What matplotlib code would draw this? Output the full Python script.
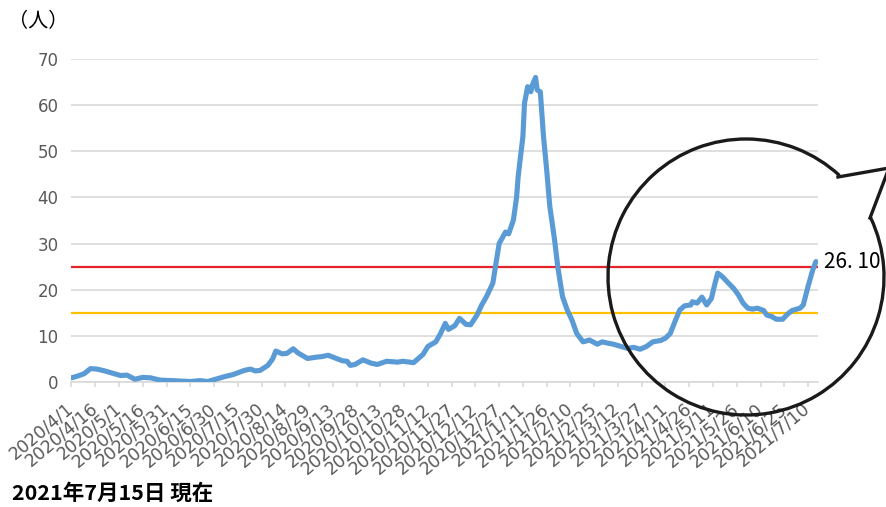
import numpy as np
import pandas as pd
import matplotlib
matplotlib.use("Agg")
import matplotlib.pyplot as plt
from matplotlib.patches import Arc

plt.rcParams['font.family'] = ['Noto Sans CJK JP', 'DejaVu Sans']

# days after 2020/4/1 and the value read at that day
start = pd.Timestamp('2020-04-01')
days = [0, 4, 8, 12, 16, 21, 25, 31, 35, 40, 45, 50, 56, 64, 75, 81, 86, 91, 97, 102,
        109, 113, 116, 119, 124, 127, 129, 133, 136, 140, 143, 149, 155, 158, 162, 165,
        171, 174, 176, 179, 184, 189, 193, 199, 206, 209, 216, 218, 222, 225, 230, 233,
        236, 238, 242, 245, 249, 252, 256, 259, 262, 266, 268, 270, 274, 276, 279, 281,
        282, 285, 286, 288, 290, 291, 293, 294, 296, 298, 300, 302, 305, 307, 310, 313,
        316, 319, 323, 327, 332, 335, 339, 342, 346, 351, 355, 359, 363, 367, 372, 375,
        378, 381, 384, 387, 391, 392, 395, 398, 401, 404, 406, 408, 411, 414, 418, 421,
        424, 427, 430, 433, 437, 439, 442, 445, 449, 452, 455, 460, 462, 465, 468, 470]
values = [0.9, 1.3, 1.8, 2.9, 2.8, 2.4, 2.0, 1.4, 1.5, 0.6, 1.0, 0.9, 0.4, 0.3, 0.1, 0.3,
          0.1, 0.6, 1.2, 1.6, 2.5, 2.8, 2.4, 2.5, 3.6, 5.0, 6.7, 6.1, 6.2, 7.2, 6.3, 5.1,
          5.4, 5.5, 5.8, 5.4, 4.6, 4.5, 3.6, 3.8, 4.8, 4.1, 3.8, 4.5, 4.3, 4.5, 4.2, 4.8,
          6.0, 7.7, 8.7, 10.5, 12.7, 11.4, 12.2, 13.8, 12.5, 12.4, 14.5, 16.7, 18.5, 21.4,
          25.7, 30.0, 32.5, 32.1, 35.1, 40.0, 44.5, 53.2, 60.4, 64.0, 62.9, 64.4, 66.0,
          63.3, 62.9, 53.2, 46.0, 38.0, 30.8, 25.0, 18.5, 15.6, 13.4, 10.5, 8.7, 9.1, 8.2,
          8.7, 8.4, 8.2, 7.8, 7.3, 7.5, 7.1, 7.7, 8.7, 9.0, 9.5, 10.5, 13.1, 15.6, 16.5,
          16.7, 17.4, 17.1, 18.4, 16.7, 18.1, 21.0, 23.6, 22.8, 21.7, 20.3, 18.9, 17.1,
          16.0, 15.8, 16.0, 15.5, 14.5, 14.2, 13.6, 13.6, 14.7, 15.5, 16.0, 16.7, 20.7,
          24.3, 26.1]
red_level = 25
yellow_level = 15
last_label = '26. 10'

dates = start + pd.to_timedelta(days, unit='D')
tick_dates = pd.date_range('2020-04-01', '2021-07-10', freq='15D')
tick_labels = [f'{d.year}/{d.month}/{d.day}' for d in tick_dates]

fig = plt.figure(figsize=(8.86, 5.07), dpi=100)
ax = fig.add_axes([71 / 886, 1 - 382 / 507, 747 / 886, 323 / 507])

ax.plot(dates, values, color='#5B9BD5', lw=3.7, solid_joinstyle='round',
        solid_capstyle='round', zorder=4)
ax.axhline(red_level, color='#E3242B', lw=1.6, zorder=3)
ax.axhline(yellow_level, color='#FFC000', lw=1.6, zorder=3)

ax.set_ylim(0, 70)
ax.set_xlim(start - pd.Timedelta(days=0.3), start + pd.Timedelta(days=471.3))
ax.set_yticks(np.arange(0, 71, 10))
ax.yaxis.grid(True, color='#D9D9D9', lw=1.2)
ax.set_axisbelow(True)
ax.set_xticks(tick_dates)
ax.set_xticklabels(tick_labels, rotation=40, ha='right', va='center', rotation_mode='anchor',
                   family='DejaVu Sans', fontsize=12.5)
ax.tick_params(axis='x', colors='#D9D9D9', length=3.6, width=1.2, labelcolor='#595959', pad=14)
ax.tick_params(axis='y', length=0, labelcolor='#595959', labelsize=12, pad=9)
for lab in ax.get_yticklabels():
    lab.set_family('DejaVu Sans')
for side in ['top', 'right', 'left']:
    ax.spines[side].set_visible(False)
ax.spines['bottom'].set_color('#D9D9D9')
ax.spines['bottom'].set_linewidth(1.2)

ax.annotate(last_label, (dates[-1], values[-1]), xytext=(6, 0), textcoords='offset points',
            va='center', ha='left', fontsize=15, color='black', annotation_clip=False)

fig.text(8 / 886, 1 - 22 / 507, '（人）', fontsize=14.5, va='center', ha='left')
fig.text(12 / 886, 1 - 493 / 507, '2021年7月15日 現在', fontsize=15.5, fontweight='bold',
         va='center', ha='left')

# speech-bubble circle drawn in pixel coordinates over the whole figure
ov = fig.add_axes([0, 0, 1, 1], zorder=10)
ov.set_xlim(0, 886)
ov.set_ylim(507, 0)
ov.axis('off')
ov.patch.set_alpha(0)
cx, cy, r = 746, 277, 138
a = (838, 177)
b = (870, 218)
ta = np.degrees(np.arctan2(a[1] - cy, a[0] - cx))
tb = np.degrees(np.arctan2(b[1] - cy, b[0] - cx))
ov.add_patch(Arc((cx, cy), 2 * r, 2 * r, theta1=tb, theta2=ta + 360, color='#1a1a1a', lw=2.4))
tip = (889, 168)
ov.plot([a[0], tip[0], b[0]], [a[1], tip[1], b[1]], color='#1a1a1a', lw=2.4,
        solid_joinstyle='miter', clip_on=False)

fig.savefig('out.png', dpi=100)
